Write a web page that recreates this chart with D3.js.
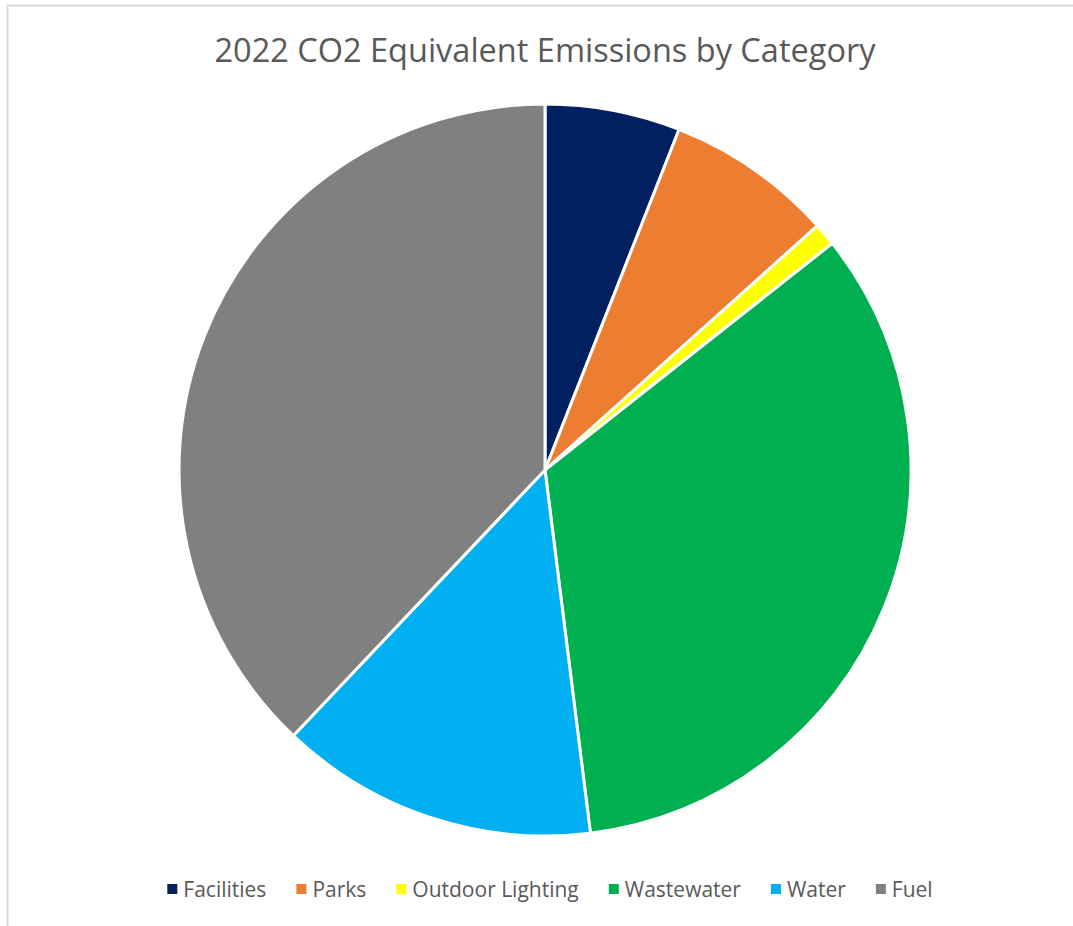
<!DOCTYPE html>
<html><head><meta charset="utf-8">
<script src="https://cdn.jsdelivr.net/npm/d3@7"></script>
<style>body{margin:0;background:#fff;}svg{display:block;}</style>
</head><body>
<script>
const categories = ["Facilities","Parks","Outdoor Lighting","Wastewater","Water","Fuel"];
const values = [5.97, 7.4, 1.0, 33.65, 14.05, 37.93];
const colors = ["#002060","#ED7D31","#FFFF00","#00B050","#00B0F0","#808080"];
const title = "2022 CO2 Equivalent Emissions by Category";

const W = 1073, H = 926;
const svg = d3.select("body").append("svg").attr("width", W).attr("height", H);
svg.append("path").attr("d", `M7.5,${H} V5.5 H${W}`).attr("fill","none").attr("stroke","#d9d9d9").attr("stroke-width",2);

svg.append("text").attr("x", 545).attr("y", 62).attr("text-anchor","middle")
  .attr("font-family","'Open Sans', sans-serif").attr("font-size", 32.5).attr("fill","#595959").text(title);

const cx = 545, cy = 470, r = 366;
const pie = d3.pie().sort(null).value(d => d)(values);
const arc = d3.arc().innerRadius(0).outerRadius(r);
const g = svg.append("g").attr("transform", `translate(${cx},${cy})`);
g.selectAll("path").data(pie).join("path")
  .attr("d", arc).attr("fill", (d,i) => colors[i])
  .attr("stroke","#fff").attr("stroke-width",3).attr("stroke-linejoin","round");

// legend
const lg = svg.append("g");
const fs = 21;
const items = [];
let x = 0;
const tmp = svg.append("text").attr("font-family","'Open Sans', sans-serif").attr("font-size",fs);
categories.forEach((c,i) => {
  tmp.text(c);
  const w = tmp.node().getComputedTextLength();
  items.push({c, x, w, i});
  x += 16 + w + 30;
});
tmp.remove();
const total = x - 30;
const startX = 550 - total/2;
items.forEach(it => {
  lg.append("rect").attr("x", startX + it.x).attr("y", 884).attr("width", 10).attr("height", 10).attr("fill", colors[it.i]);
  lg.append("text").attr("x", startX + it.x + 16).attr("y", 897)
    .attr("font-family","'Open Sans', sans-serif").attr("font-size",fs).attr("fill","#595959").text(it.c);
});
</script>
</body></html>
